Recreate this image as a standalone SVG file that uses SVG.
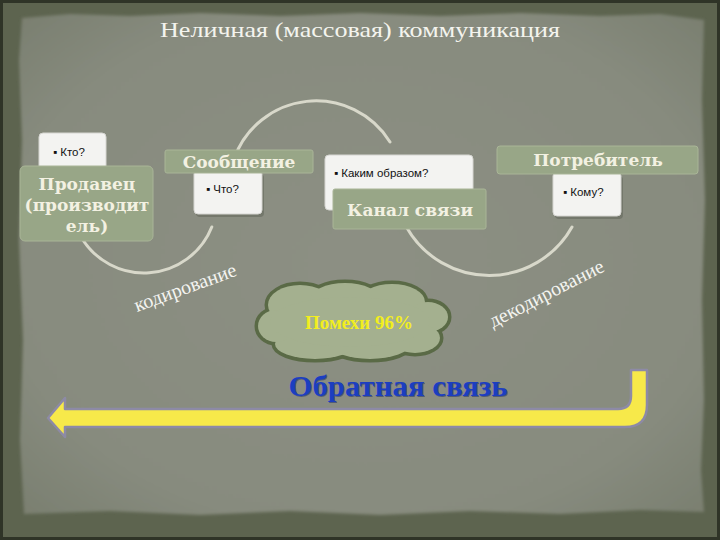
<svg xmlns="http://www.w3.org/2000/svg" width="720" height="540" viewBox="0 0 720 540">
<defs>
<radialGradient id="paper" cx="50%" cy="50%" r="70%">
<stop offset="0" stop-color="#8c8f83"/>
<stop offset="0.75" stop-color="#878b7e"/>
<stop offset="1" stop-color="#7a7f70"/>
</radialGradient>
<filter id="soft" x="-5%" y="-5%" width="110%" height="110%"><feGaussianBlur stdDeviation="1.5"/></filter>
<style>
.green{fill:#98a687;stroke:#a9b597;stroke-width:1}
.white{fill:#f3f3f1;stroke:#d6d6d2;stroke-width:1}
.shadow{fill:#5d6255;opacity:0.5}
.glabel{font-family:"DejaVu Serif","Liberation Serif",serif;font-weight:bold;font-size:17px;fill:#f3f1e2;text-anchor:middle}
.bullet{font-family:"Liberation Sans","DejaVu Sans",sans-serif;font-size:11.5px;fill:#111}
.arc{fill:none;stroke:#d8d8ca;stroke-width:3;stroke-linecap:round}
.rot{font-family:"Liberation Serif","DejaVu Serif",serif;font-size:20px;fill:#f4f4f0}
</style>
</defs>
<rect x="0" y="0" width="720" height="540" fill="#2f3427"/>
<rect x="3" y="3" width="714" height="534" fill="#5d644f"/>
<path d="M22 18 L70 14 L130 16 L200 13 L280 16 L360 13 L440 16 L520 13 L600 16 L660 14 L704 20 L702 100 L705 200 L702 300 L704 400 L701 470 L704 512 L640 510 L560 514 L470 511 L380 515 L290 511 L200 515 L110 511 L24 514 L20 440 L23 340 L19 240 L22 140 L19 60 Z" fill="url(#paper)" filter="url(#soft)"/>

<text x="360" y="37" font-family="Liberation Serif, serif" font-size="22" fill="#f4f4ee" text-anchor="middle" textLength="400" lengthAdjust="spacingAndGlyphs">Неличная (массовая) коммуникация</text>

<g id="connectors">
<path class="arc" d="M80.8 236.5 A73 73 0 0 0 211.8 227"/>
<path class="arc" d="M234 159 A87 87 0 0 1 390 142"/>
<path class="arc" d="M406.7 227.5 A95 95 0 0 0 572 227"/>
</g>

<g id="node-kto">
<rect class="white" x="39" y="133" width="67" height="40" rx="4"/>
<text class="bullet" x="53" y="156">▪ Кто?</text>
</g>
<g id="node-prodavec">
<rect class="green" x="20" y="166" width="133" height="75" rx="5"/>
<text class="glabel" x="87" y="190">Продавец</text>
<text class="glabel" x="87" y="211">(производит</text>
<text class="glabel" x="87" y="232">ель)</text>
</g>

<g id="node-soobshenie">
<rect class="shadow" x="196" y="174" width="68" height="43" rx="4"/>
<rect class="white" x="194" y="170" width="68" height="44" rx="4"/>
<text class="bullet" x="206" y="193">▪ Что?</text>
<rect class="green" x="165" y="150" width="148" height="23" rx="2"/>
<text class="glabel" x="239" y="168">Сообщение</text>
</g>

<g id="node-kanal">
<rect class="white" x="325" y="155" width="148" height="55" rx="4"/>
<text class="bullet" x="334" y="177">▪ Каким образом?</text>
<rect class="green" x="333" y="189" width="153" height="40" rx="2"/>
<text class="glabel" x="410" y="216">Канал связи</text>
</g>

<g id="node-potrebitel">
<rect class="shadow" x="555" y="176" width="68" height="43" rx="4"/>
<rect class="white" x="553" y="172" width="68" height="44" rx="4"/>
<text class="bullet" x="563" y="196">▪ Кому?</text>
<rect class="green" x="497" y="146" width="201" height="28" rx="3"/>
<text class="glabel" x="598" y="166">Потребитель</text>
</g>

<g id="label-kodirovanie">
<text class="rot" transform="translate(137,312) rotate(-20)">кодирование</text>
</g>
<g id="label-dekodirovanie">
<text class="rot" transform="translate(493,328) rotate(-27)">декодирование</text>
</g>

<g id="node-pomehi">
<g fill="#5a6a46" stroke="#5a6a46" stroke-width="7">
<ellipse cx="300" cy="305" rx="32" ry="20"/>
<ellipse cx="345" cy="300" rx="35" ry="17"/>
<ellipse cx="392" cy="302" rx="33" ry="18"/>
<ellipse cx="428" cy="317" rx="20" ry="15"/>
<ellipse cx="415" cy="338" rx="25" ry="15"/>
<ellipse cx="370" cy="344" rx="40" ry="15"/>
<ellipse cx="315" cy="344" rx="40" ry="15"/>
<ellipse cx="276" cy="326" rx="18" ry="16"/>
<ellipse cx="350" cy="322" rx="80" ry="25"/>
</g>
<g fill="#a4b08f">
<ellipse cx="300" cy="305" rx="32" ry="20"/>
<ellipse cx="345" cy="300" rx="35" ry="17"/>
<ellipse cx="392" cy="302" rx="33" ry="18"/>
<ellipse cx="428" cy="317" rx="20" ry="15"/>
<ellipse cx="415" cy="338" rx="25" ry="15"/>
<ellipse cx="370" cy="344" rx="40" ry="15"/>
<ellipse cx="315" cy="344" rx="40" ry="15"/>
<ellipse cx="276" cy="326" rx="18" ry="16"/>
<ellipse cx="350" cy="322" rx="80" ry="25"/>
</g>
<text x="359" y="329" font-family="Liberation Serif, serif" font-weight="bold" font-size="18" fill="#f2ee1e" text-anchor="middle" textLength="108" lengthAdjust="spacingAndGlyphs">Помехи 96%</text>
</g>

<g id="node-feedback">
<path d="M65 398 L48 418 L65 437 L65 427 L625 427 Q647 427 647 405 L647 370 L631 370 L631 396 Q631 409 618 409 L65 409 Z" fill="#f7e94a" stroke="#8d8aa6" stroke-width="2.5" stroke-linejoin="round"/>
<text x="398" y="396" font-family="Liberation Serif, serif" font-weight="bold" font-size="30" fill="#0e1f66" text-anchor="middle" opacity="0.45" transform="translate(1,1)" textLength="219" lengthAdjust="spacingAndGlyphs">Обратная связь</text>
<text x="398" y="396" font-family="Liberation Serif, serif" font-weight="bold" font-size="30" fill="#1c3ec0" text-anchor="middle" textLength="219" lengthAdjust="spacingAndGlyphs">Обратная связь</text>
</g>
</svg>
